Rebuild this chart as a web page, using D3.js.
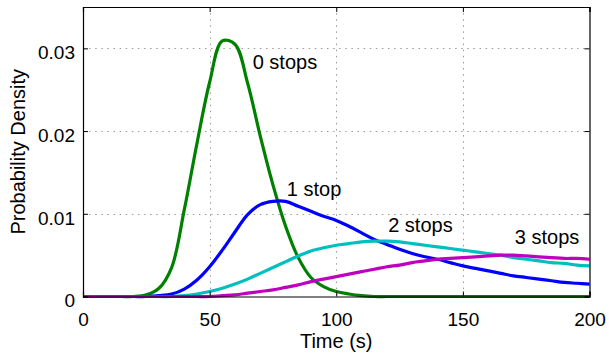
<!DOCTYPE html>
<html>
<head>
<meta charset="utf-8">
<script src="https://cdn.jsdelivr.net/npm/d3@7"></script>
<style>
  html, body { margin: 0; padding: 0; background: #fff; }
  svg { display: block; font-family: "Liberation Sans", Arial, Helvetica, sans-serif; }
</style>
</head>
<body>
<svg id="chart" width="609" height="358"></svg>
<script>
// Sample times (s) shared by every curve
const times = d3.range(0, 201, 5);

// Probability density per number of stops, one value per sample time
const stops0 = [0, 0, 0, 0, 0, 0.0002, 0.0010, 0.0035, 0.0105, 0.0185,
  0.0259, 0.0309, 0.0305, 0.0258, 0.0194, 0.0135, 0.0085, 0.0047, 0.0023, 0.0012,
  0.0006, 0.0003, 0.0001, 0, 0, 0, 0, 0, 0, 0,
  0, 0, 0, 0, 0, 0, 0, 0, 0, 0, 0];
const stops1 = [0, 0, 0, 0, 0, 0, 0.0001, 0.0003, 0.0009, 0.0020,
  0.0036, 0.0056, 0.0078, 0.0099, 0.0111, 0.0115, 0.0115, 0.0109, 0.0103, 0.0097,
  0.0092, 0.0085, 0.0077, 0.0069, 0.0063, 0.0057, 0.0052, 0.0048, 0.0045, 0.0041,
  0.0037, 0.0034, 0.0031, 0.0028, 0.0025, 0.0023, 0.0021, 0.0019, 0.0017, 0.0016, 0.0015];
const stops2 = [0, 0, 0, 0, 0, 0, 0, 0, 0.0001, 0.0003,
  0.0006, 0.0010, 0.0015, 0.0021, 0.0028, 0.0035, 0.0042, 0.0049, 0.0055, 0.0059,
  0.0062, 0.0064, 0.0066, 0.0067, 0.0067, 0.0066, 0.0064, 0.0062, 0.0060, 0.0058,
  0.0056, 0.0054, 0.0052, 0.0050, 0.0047, 0.0045, 0.0043, 0.0041, 0.0040, 0.0038, 0.0037];
const stops3 = [0, 0, 0, 0, 0, 0, 0, 0, 0, 0,
  0, 0.0001, 0.0002, 0.0004, 0.0006, 0.0008, 0.0011, 0.0014, 0.0018, 0.0021,
  0.0024, 0.0027, 0.0030, 0.0033, 0.0036, 0.0038, 0.0041, 0.0043, 0.0045, 0.0046,
  0.0047, 0.0048, 0.0049, 0.0050, 0.0050, 0.0049, 0.0048, 0.0047, 0.0046, 0.0046, 0.0045];

const seriesNames = ["0 stops", "1 stop", "2 stops", "3 stops"];
const seriesColors = ["#008000", "#0000ff", "#00bfbf", "#bf00bf"];
const seriesValues = [stops0, stops1, stops2, stops3];

// Curve labels: anchor point in data units (time, density)
const labelTimes = [67, 80.5, 120.5, 170.5];
const labelValues = [0.0275, 0.0122, 0.0078, 0.0064];

const xTicks = [0, 50, 100, 150, 200];
const yTicks = [0, 0.01, 0.02, 0.03];
const yTickLabels = ["0", "0.01", "0.02", "0.03"];

const svg = d3.select("#chart");
const plotLeft = 83, plotRight = 589.5, plotTop = 7, plotBottom = 296.5;

const x = d3.scaleLinear().domain([0, 200]).range([plotLeft, plotRight]);
const y = d3.scaleLinear().domain([0, 0.035]).range([plotBottom, plotTop]);

// Dotted grid
const grid = svg.append("g").attr("stroke", "#9a9a9a").attr("stroke-width", 1)
  .attr("stroke-dasharray", "1.5,4.6");
grid.selectAll(".gx").data(xTicks.slice(1, -1)).join("line")
  .attr("x1", d => Math.round(x(d)) + 0.5).attr("x2", d => Math.round(x(d)) + 0.5)
  .attr("y1", plotTop).attr("y2", plotBottom);
grid.selectAll(".gy").data(yTicks.slice(1)).join("line")
  .attr("y1", d => Math.round(y(d)) + 0.5).attr("y2", d => Math.round(y(d)) + 0.5)
  .attr("x1", plotLeft).attr("x2", plotRight);

// Curves
const line = d3.line()
  .x((d, i) => x(times[i]))
  .y(d => y(d))
  .curve(d3.curveCatmullRom.alpha(0.5));

svg.append("g")
  .selectAll("path").data(seriesValues).join("path")
  .attr("d", d => line(d))
  .attr("fill", "none")
  .attr("stroke", (d, i) => seriesColors[i])
  .attr("stroke-width", 3.2)
  .attr("stroke-linejoin", "round");

// Axis box with inward ticks on all four sides
const axisBottomG = svg.append("g").attr("transform", `translate(0,${plotBottom})`)
  .call(d3.axisBottom(x).tickValues(xTicks).tickSize(-5).tickFormat(d => d).tickPadding(16));
const axisLeftG = svg.append("g").attr("transform", `translate(${plotLeft},0)`)
  .call(d3.axisLeft(y).tickValues(yTicks).tickSize(-5)
    .tickFormat((d, i) => yTickLabels[i]).tickPadding(8));
const axisTopG = svg.append("g").attr("transform", `translate(0,${plotTop})`)
  .call(d3.axisTop(x).tickValues(xTicks).tickSize(-5).tickFormat(""));
const axisRightG = svg.append("g").attr("transform", `translate(${plotRight},0)`)
  .call(d3.axisRight(y).tickValues(yTicks).tickSize(-5).tickFormat(""));

[axisBottomG, axisLeftG, axisTopG, axisRightG].forEach(g => {
  g.select(".domain").attr("stroke", "#000").attr("stroke-width", 1.2);
  g.selectAll(".tick line").attr("stroke", "#000");
  g.selectAll(".tick text")
    .attr("font-size", 19).attr("fill", "#000")
    .attr("font-family", "'Liberation Sans', Arial, sans-serif");
});
axisLeftG.selectAll(".tick text").attr("dy", "0.55em");

// Axis titles
svg.append("text")
  .attr("x", (plotLeft + plotRight) / 2).attr("y", 348)
  .attr("text-anchor", "middle").attr("font-size", 20)
  .text("Time (s)");
svg.append("text")
  .attr("transform", `translate(25,${(plotTop + plotBottom) / 2}) rotate(-90)`)
  .attr("text-anchor", "middle").attr("font-size", 20)
  .text("Probability Density");

// Curve labels
svg.append("g").selectAll("text").data(seriesNames).join("text")
  .attr("x", (d, i) => x(labelTimes[i]))
  .attr("y", (d, i) => y(labelValues[i]))
  .attr("font-size", 20).attr("fill", "#000")
  .text(d => d);
</script>
</body>
</html>
